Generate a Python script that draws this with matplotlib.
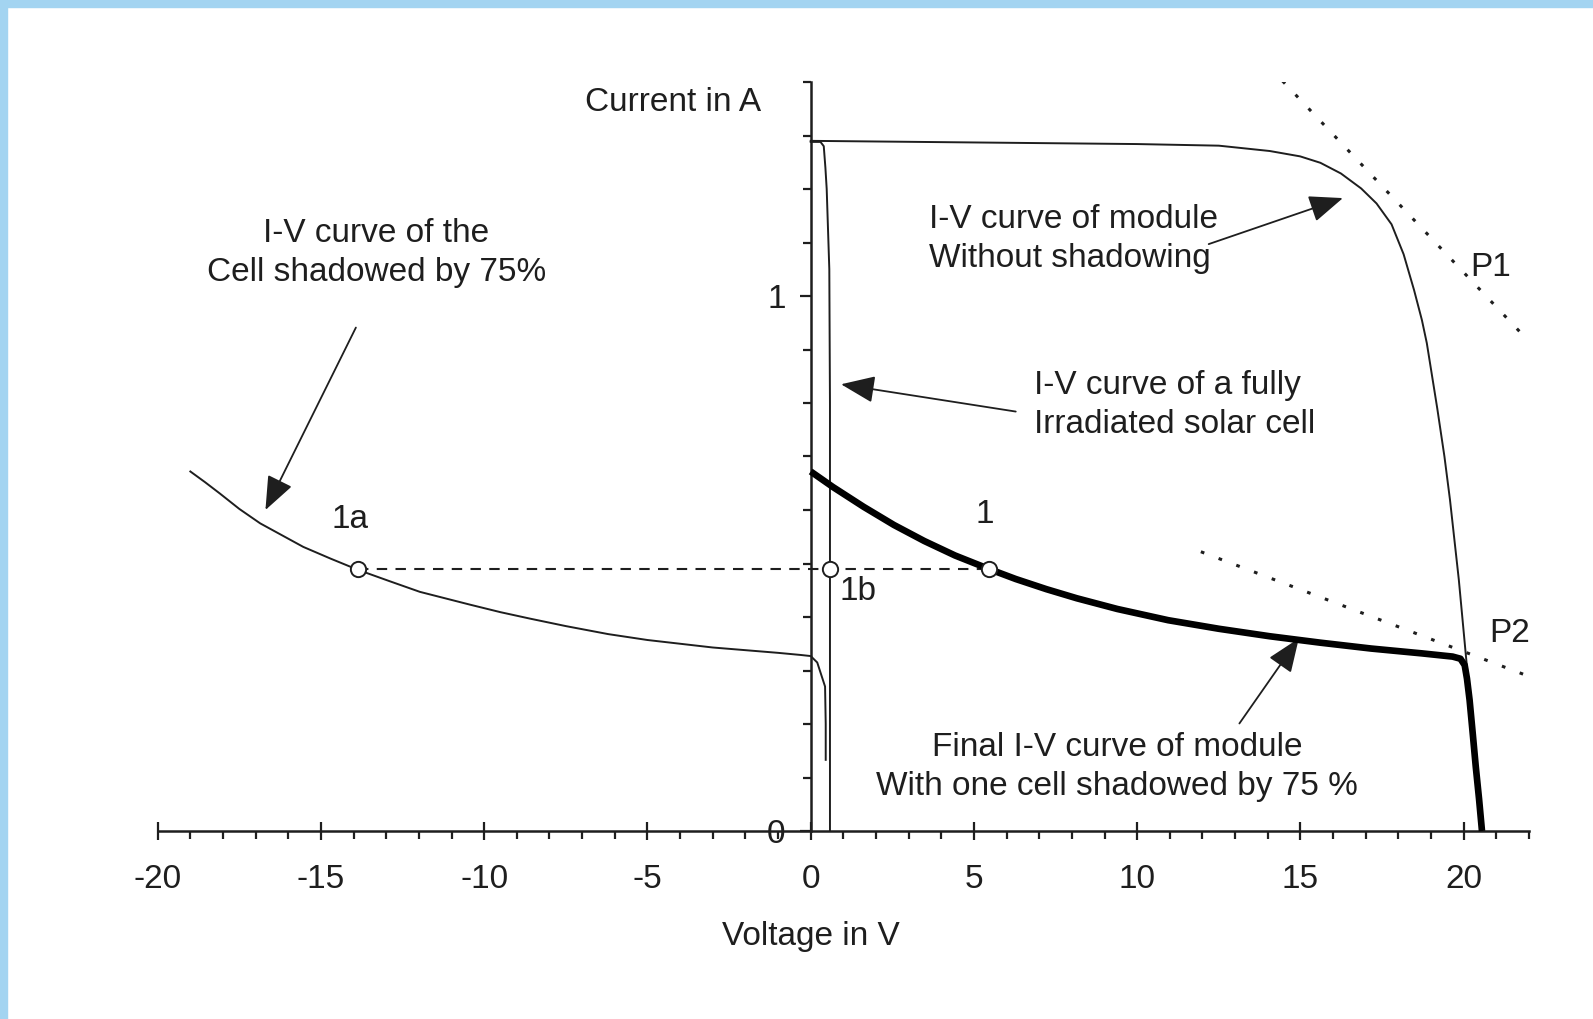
import matplotlib
matplotlib.use("Agg")
import matplotlib.pyplot as plt
from matplotlib.patches import Rectangle
from matplotlib.ticker import MultipleLocator, FixedLocator

plt.rcParams['font.family'] = ['Liberation Sans', 'DejaVu Sans']

# ---- data (V in volts, I in amps) ----
module_v = [0.0, 5.0, 10.0, 12.5, 14.06, 14.99, 15.61, 16.24, 16.86, 17.33, 17.79, 18.16,
            18.48, 18.72, 18.87, 19.19, 19.41, 19.58, 19.85, 20.09, 20.18, 20.37, 20.56]
module_i = [1.29, 1.287, 1.284, 1.281, 1.271, 1.261, 1.249, 1.229, 1.201, 1.173, 1.134,
            1.078, 1.011, 0.955, 0.912, 0.79, 0.70, 0.619, 0.47, 0.313, 0.245, 0.12, 0.0]

cell_v = [0.0, 0.3, 0.4, 0.45, 0.49, 0.57, 0.59, 0.59]
cell_i = [1.288, 1.288, 1.28, 1.24, 1.2, 1.05, 0.8, 0.0]

shaded_v = [-19.0, -18.55, -18.1, -17.5, -16.86, -16.2, -15.54, -14.7, -13.86, -12.9,
            -11.97, -10.43, -9.5, -8.6, -7.5, -6.2, -5.0, -4.0, -3.0, -2.0, -1.0, -0.3,
            0.0, 0.2, 0.44, 0.46, 0.46]
shaded_i = [0.672, 0.652, 0.631, 0.602, 0.575, 0.553, 0.531, 0.509, 0.488, 0.467,
            0.447, 0.423, 0.409, 0.397, 0.383, 0.368, 0.357, 0.350, 0.343, 0.338, 0.333,
            0.329, 0.327, 0.315, 0.27, 0.20, 0.133]

final_v = [0.0, 0.68, 1.62, 2.55, 3.48, 4.42, 5.45, 6.28, 7.22, 8.15, 9.39, 10.95, 12.5,
           14.06, 15.61, 17.17, 18.72, 19.66, 19.9, 20.03, 20.1, 20.18, 20.28, 20.37,
           20.47, 20.56]
final_i = [0.672, 0.643, 0.606, 0.572, 0.542, 0.515, 0.49, 0.471, 0.452, 0.435, 0.415,
           0.394, 0.378, 0.364, 0.352, 0.341, 0.332, 0.326, 0.322, 0.31, 0.285, 0.245,
           0.18, 0.12, 0.06, 0.0]

points_v = [-13.86, 0.59, 5.45]
points_i = [0.49, 0.49, 0.49]

p1_v = [14.45, 21.83]
p1_i = [1.402, 0.926]
p2_v = [11.95, 22.0]
p2_i = [0.522, 0.289]

x_ticks = [-20, -15, -10, -5, 0, 5, 10, 15, 20]
y_ticks = [0, 1]

# ---- figure ----
fig = plt.figure(figsize=(15.93, 10.19), dpi=100)
fig.patch.set_facecolor('white')
border = '#a3d4f1'
fig.add_artist(Rectangle((0, 1 - 7 / 1019), 1, 7 / 1019, transform=fig.transFigure,
                         color=border, zorder=0))
fig.add_artist(Rectangle((0, 0), 7 / 1593, 1, transform=fig.transFigure,
                         color=border, zorder=0))

ax = fig.add_axes([157.7 / 1593, 188 / 1019, (1529 - 157.7) / 1593, 749 / 1019])
ax.set_xlim(-20, 22)
ax.set_ylim(0, 1.4)
ax.patch.set_alpha(0)

ink = '#1e1e1e'
for s in ['top', 'right']:
    ax.spines[s].set_visible(False)
ax.spines['left'].set_position(('data', 0))
ax.spines['left'].set_linewidth(1.8)
ax.spines['bottom'].set_linewidth(1.8)
ax.spines['left'].set_color(ink)
ax.spines['bottom'].set_color(ink)

ax.xaxis.set_major_locator(FixedLocator(x_ticks))
ax.xaxis.set_minor_locator(MultipleLocator(1))
ax.yaxis.set_major_locator(FixedLocator(y_ticks))
ax.yaxis.set_minor_locator(MultipleLocator(0.1))
fs = 24
ax.tick_params(axis='x', which='major', direction='inout', length=13, width=1.6,
               pad=17, labelsize=fs, colors=ink)
ax.tick_params(axis='x', which='minor', direction='out', length=6, width=1.6, colors=ink)
ax.tick_params(axis='y', which='major', direction='out', length=8, width=1.6,
               pad=10, labelsize=fs, colors=ink)
ax.tick_params(axis='y', which='minor', direction='out', length=6, width=1.6, colors=ink)
ax.set_xticklabels([str(t) for t in x_ticks])
ax.set_yticklabels([str(t) for t in y_ticks])

# ---- curves ----
ax.plot(module_v, module_i, color=ink, lw=1.4, zorder=3, solid_joinstyle='round')
ax.plot(cell_v, cell_i, color=ink, lw=1.4, zorder=3)
ax.plot(shaded_v, shaded_i, color=ink, lw=1.4, zorder=3, solid_joinstyle='round')
ax.plot(final_v, final_i, color='black', lw=4.8, zorder=4, solid_capstyle='butt',
        solid_joinstyle='round', clip_on=False)
ax.plot([points_v[0], points_v[2]], [points_i[0], points_i[2]], color=ink, lw=1.5,
        linestyle=(0, (5, 4)), zorder=2)
ax.plot(points_v, points_i, linestyle='none', marker='o', markersize=11,
        markerfacecolor='white', markeredgecolor=ink, markeredgewidth=1.4, zorder=5)
ax.plot(p1_v, p1_i, color=ink, lw=2.2, linestyle=(0, (1.2, 5)), zorder=2)
ax.plot(p2_v, p2_i, color=ink, lw=2.2, linestyle=(0, (1.2, 5)), zorder=2)

# ---- text ----
ax.text(-4.23, 1.362, 'Current in A', fontsize=fs, color=ink, ha='center', va='center')
ax.text(0, -0.1975, 'Voltage in V', fontsize=fs, color=ink, ha='center', va='center',
        clip_on=False)
ax.text(-14.12, 0.583, '1a', fontsize=fs, color=ink, ha='center', va='center')
ax.text(5.32, 0.592, '1', fontsize=fs, color=ink, ha='center', va='center')
ax.text(1.46, 0.448, '1b', fontsize=fs, color=ink, ha='center', va='center')
ax.text(20.81, 1.053, 'P1', fontsize=fs, color=ink, ha='center', va='center')
ax.text(21.4, 0.37, 'P2', fontsize=fs, color=ink, ha='center', va='center')

arrow = dict(arrowstyle='-|>,head_length=1.05,head_width=0.42', color=ink, lw=1.3,
             mutation_scale=20, shrinkA=0, shrinkB=0)

ls = 1.33
ax.annotate('', xy=(-16.7, 0.600), xytext=(-13.93, 0.941), arrowprops=arrow)
ax.text(-13.3, 1.081, 'I-V curve of the\nCell shadowed by 75%', fontsize=fs, color=ink,
        ha='center', va='center', multialignment='center', linespacing=ls)

ax.annotate('', xy=(16.3, 1.183), xytext=(12.19, 1.097), arrowprops=arrow)
ax.text(3.61, 1.107, 'I-V curve of module\nWithout shadowing', fontsize=fs, color=ink,
        ha='left', va='center', multialignment='left', linespacing=ls)

ax.annotate('', xy=(0.93, 0.835), xytext=(6.28, 0.784), arrowprops=arrow)
ax.text(6.84, 0.797, 'I-V curve of a fully\nIrradiated solar cell', fontsize=fs,
        color=ink, ha='left', va='center', multialignment='left', linespacing=ls)

ax.annotate('', xy=(14.95, 0.36), xytext=(13.13, 0.201), arrowprops=arrow)
ax.text(9.39, 0.119, 'Final I-V curve of module\nWith one cell shadowed by 75 %',
        fontsize=fs, color=ink, ha='center', va='center', multialignment='center',
        linespacing=ls)

fig.savefig('out.png', dpi=100, facecolor='white')
